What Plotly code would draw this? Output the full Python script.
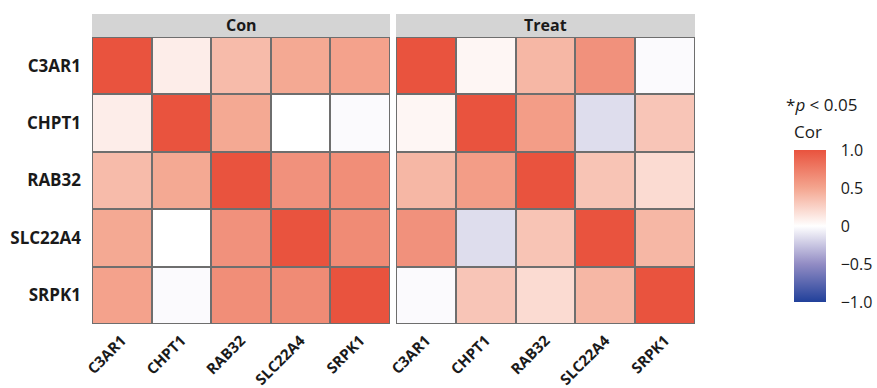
import plotly.graph_objects as go

genes = ["C3AR1", "CHPT1", "RAB32", "SLC22A4", "SRPK1"]
groups = ["Con", "Treat"]

con_values = [
    [1.00, 0.10, 0.38, 0.48, 0.52],
    [0.10, 1.00, 0.48, 0.00, -0.02],
    [0.38, 0.48, 1.00, 0.62, 0.64],
    [0.48, 0.00, 0.62, 1.00, 0.66],
    [0.52, -0.02, 0.64, 0.66, 1.00],
]
treat_values = [
    [1.00, 0.05, 0.40, 0.62, -0.02],
    [0.05, 1.00, 0.55, -0.15, 0.32],
    [0.40, 0.55, 1.00, 0.33, 0.20],
    [0.62, -0.15, 0.33, 1.00, 0.40],
    [-0.02, 0.32, 0.20, 0.40, 1.00],
]

cbar_vals = [-1, -0.5, 0, 0.5, 1]
cbar_text = ["\u22121.0", "\u22120.5", "0", "0.5", "1.0"]

W, H = 877, 388
def px(x):
    return x / W
def py(y):
    return 1 - y / H

colorscale = [
    [0.0, "rgb(33,64,154)"],
    [0.25, "rgb(146,140,196)"],
    [0.5, "rgb(255,255,255)"],
    [0.75, "rgb(244,165,143)"],
    [1.0, "rgb(233,83,62)"],
]

FONT = "Open Sans"
fig = go.Figure()
for i, (g, vals) in enumerate(zip(groups, [con_values, treat_values])):
    fig.add_trace(go.Heatmap(
        z=vals, x=genes, y=genes, coloraxis="coloraxis",
        xaxis="x" if i == 0 else "x2", yaxis="y" if i == 0 else "y2",
        xgap=2, ygap=2, hoverongaps=False,
    ))

x1 = [px(92), px(390)]
x2 = [px(396), px(695)]
ydom = [py(324), py(37)]

common_x = dict(tickangle=-45, ticks="", showgrid=False, zeroline=False,
                ticklabelstandoff=4,
                tickfont=dict(family=FONT, size=15, color="#1a1a1a", weight="bold"),
                automargin=False, showline=False)
common_y = dict(autorange="reversed", ticks="", showgrid=False, zeroline=False,
                automargin=False, showline=False)

fig.update_layout(
    width=W, height=H,
    margin=dict(l=0, r=0, t=0, b=0, autoexpand=False),
    paper_bgcolor="white",
    plot_bgcolor="#6e6e6e",
    font=dict(family=FONT, size=16, color="#1a1a1a"),
    xaxis=dict(domain=x1, anchor="y", **common_x),
    xaxis2=dict(domain=x2, anchor="y2", **common_x),
    yaxis=dict(domain=ydom, anchor="x", ticklabelstandoff=10,
               tickfont=dict(family=FONT, size=17, color="#1a1a1a", weight="bold"), **common_y),
    yaxis2=dict(domain=ydom, anchor="x2", showticklabels=False, matches="y", **common_y),
    coloraxis=dict(
        cmin=-1, cmax=1, colorscale=colorscale,
        colorbar=dict(
            title=dict(text="Cor", side="top", font=dict(family=FONT, size=17)),
            x=px(794), xanchor="left", y=py(302), yanchor="bottom",
            thickness=32, thicknessmode="pixels", len=180, lenmode="pixels",
            tickvals=cbar_vals, ticktext=cbar_text,
            ticks="outside", ticklen=12, tickcolor="rgba(0,0,0,0)",
            outlinewidth=0, tickfont=dict(family=FONT, size=16, color="#1a1a1a"),
            ypad=0, xpad=0,
        ),
    ),
    showlegend=False,
)

for i, (g, dom) in enumerate(zip(groups, [x1, x2])):
    fig.add_shape(type="rect", xref="paper", yref="paper",
                  x0=dom[0], x1=dom[1], y0=py(37), y1=py(14),
                  fillcolor="#d4d4d4", line=dict(width=0), layer="below")
    fig.add_annotation(text=f"<b>{g}</b>", xref="paper", yref="paper",
                       x=(dom[0] + dom[1]) / 2, y=py(25.5), showarrow=False,
                       font=dict(family=FONT, size=16, color="#1a1a1a"),
                       xanchor="center", yanchor="middle")

fig.add_annotation(text="*<i>p</i> < 0.05", xref="paper", yref="paper",
                   x=px(784), y=py(105), showarrow=False, xanchor="left", yanchor="middle",
                   font=dict(family=FONT, size=17, color="#1a1a1a"))

fig.write_html("out.html", config={"displayModeBar": False},
               post_script="document.body.style.margin='0';document.body.style.overflow='hidden';")
